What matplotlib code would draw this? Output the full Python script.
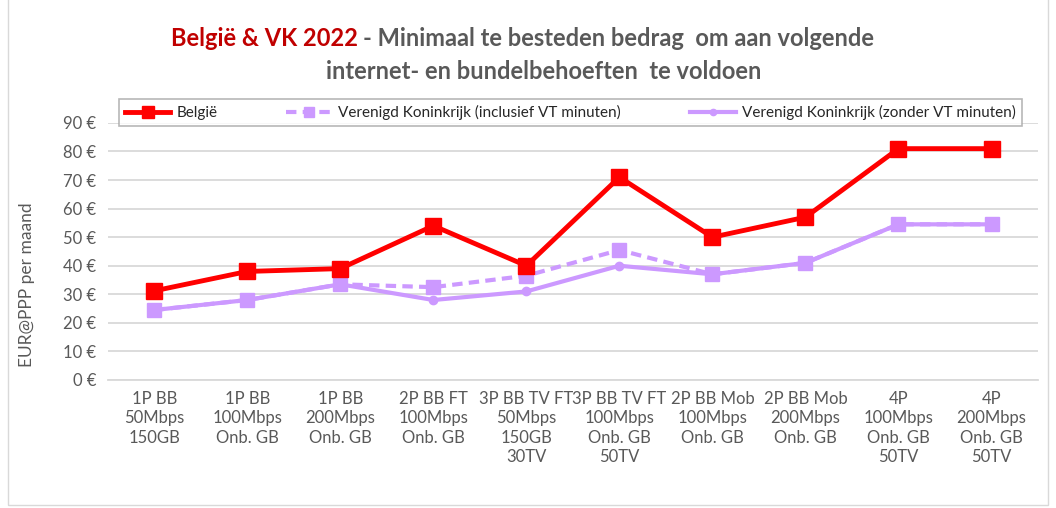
import matplotlib.pyplot as plt
from matplotlib.patches import Rectangle

plt.rcParams['font.family'] = ['Lato', 'DejaVu Sans']

# categorieen (x-as)
categories = [
    "1P BB\n50Mbps\n150GB",
    "1P BB\n100Mbps\nOnb. GB",
    "1P BB\n200Mbps\nOnb. GB",
    "2P BB FT\n100Mbps\nOnb. GB",
    "3P BB TV FT\n50Mbps\n150GB\n30TV",
    "3P BB TV FT\n100Mbps\nOnb. GB\n50TV",
    "2P BB Mob\n100Mbps\nOnb. GB",
    "2P BB Mob\n200Mbps\nOnb. GB",
    "4P\n100Mbps\nOnb. GB\n50TV",
    "4P\n200Mbps\nOnb. GB\n50TV",
]

# waarden (EUR@PPP per maand)
belgie = [31.2, 38, 39, 54, 40, 71, 50, 57, 81, 81]
vk_incl = [24.5, 28, 33.5, 32.5, 36.5, 45.5, 37, 41, 54.5, 54.5]
vk_zonder = [24.5, 28, 33.5, 28, 31, 40, 37, 41, 54.5, 54.5]

yticks = [0, 10, 20, 30, 40, 50, 60, 70, 80, 90]

red = "#FF0000"
lav = "#CC99FF"
grey = "#595959"

fig = plt.figure(figsize=(10.56, 5.08), dpi=100)
ax = fig.add_axes([0.102, 0.252, 0.881, 0.506])

x = range(len(categories))
ax.plot(x, vk_zonder, color=lav, lw=3, marker="o", ms=6,
        label="Verenigd Koninkrijk (zonder VT minuten)", zorder=3)
ax.plot(x, vk_incl, color=lav, lw=3, ls=(0, (2.5, 1.5)), marker="s", ms=10,
        label="Verenigd Koninkrijk (inclusief VT minuten)", zorder=4)
ax.plot(x, belgie, color=red, lw=3.5, marker="s", ms=11,
        label="België", zorder=5)

ax.set_xlim(-0.5, len(categories) - 0.5)
ax.set_ylim(0, 90)
ax.set_yticks(yticks)
ax.set_yticklabels([f"{v} €" for v in yticks], color=grey, fontsize=12)
ax.set_xticks(list(x))
ax.set_xticklabels(categories, color=grey, fontsize=12, linespacing=1.25)
ax.tick_params(length=0, pad=8)
ax.yaxis.grid(True, color="#D9D9D9", lw=1.3)
ax.set_axisbelow(True)
for s in ["top", "right", "left"]:
    ax.spines[s].set_visible(False)
ax.spines["bottom"].set_color("#D9D9D9")
ax.spines["bottom"].set_linewidth(1.3)
ax.set_ylabel("EUR@PPP per maand", color=grey, fontsize=12.5)
ax.yaxis.set_label_coords(-0.078, 0.37)

handles, labels = ax.get_legend_handles_labels()
order = [2, 1, 0]
leg = fig.legend([handles[i] for i in order], [labels[i] for i in order],
                 loc="center", bbox_to_anchor=(0.0994, 0.748, 0.881, 0.061),
                 ncol=3, frameon=True, fancybox=False, fontsize=11,
                 handlelength=3.0, handletextpad=0.4, columnspacing=4.5,
                 markerscale=0.75, borderaxespad=0)
leg.get_frame().set_edgecolor("#A6A6A6")
leg.get_frame().set_linewidth(1.2)
for t in leg.get_texts():
    t.set_color("#262626")

# titel
fig.text(0.339, 0.925, "België & VK 2022", color="#C00000", fontsize=17,
         fontweight="bold", ha="right", va="center")
fig.text(0.344, 0.925, "- Minimaal te besteden bedrag  om aan volgende",
         color=grey, fontsize=17, fontweight="bold", ha="left", va="center")
fig.text(0.515, 0.86, "internet- en bundelbehoeften  te voldoen",
         color=grey, fontsize=17, fontweight="bold", ha="center", va="center")

# kader rond grafiek
fig.patches.append(Rectangle((0.008, 0.006), 0.984, 1.2, transform=fig.transFigure,
                             fill=False, edgecolor="#D9D9D9", lw=1))

fig.savefig("out.png", dpi=100)
